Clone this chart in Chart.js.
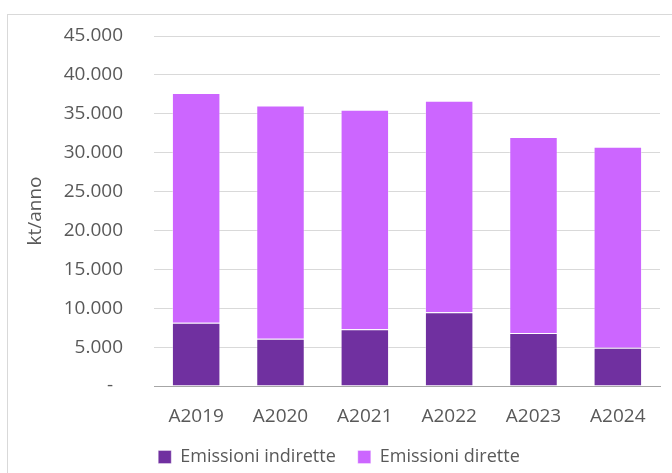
<!DOCTYPE html>
<html>
<head>
<meta charset="utf-8">
<script src="https://cdn.jsdelivr.net/npm/chart.js@4/dist/chart.umd.min.js"></script>
<style>
  html, body { margin: 0; padding: 0; background: #ffffff; }
  #wrap { width: 672px; height: 473px; position: relative; }
</style>
</head>
<body>
<div id="wrap"><canvas id="c" width="672" height="473"></canvas></div>
<script>
// Emissioni annue (kt/anno)
const categories = ['A2019', 'A2020', 'A2021', 'A2022', 'A2023', 'A2024'];
const emissioniIndirette = [8140, 6080, 7290, 9470, 6810, 4920];
const emissioniDirette = [29520, 30000, 28230, 27200, 25190, 25840];
const yTicks = [0, 5000, 10000, 15000, 20000, 25000, 30000, 35000, 40000, 45000];

const TEXT = '#595959';
const FONT = 'Open Sans';

function formatIt(v) {
  if (v === 0) return '-\u00a0\u00a0';
  return String(v).replace(/\B(?=(\d{3})+(?!\d))/g, '.');
}

// light frame around the whole chart
const framePlugin = {
  id: 'frame',
  beforeDraw(chart) {
    const ctx = chart.ctx;
    ctx.save();
    ctx.fillStyle = '#ffffff';
    ctx.fillRect(0, 0, chart.width, chart.height);
    ctx.strokeStyle = '#d9d9d9';
    ctx.lineWidth = 1;
    ctx.strokeRect(7.5, 14.5, chart.width + 20, chart.height + 20);
    ctx.restore();
  }
};

new Chart(document.getElementById('c'), {
  type: 'bar',
  data: {
    labels: categories,
    datasets: [
      {
        label: 'Emissioni indirette',
        data: emissioniIndirette,
        backgroundColor: '#7030a0',
        borderColor: 'rgba(255,255,255,0.35)',
        borderWidth: 1,
        categoryPercentage: 1,
        barPercentage: 0.575
      },
      {
        label: 'Emissioni dirette',
        data: emissioniDirette,
        backgroundColor: '#cc66ff',
        borderColor: 'rgba(255,255,255,0.35)',
        borderWidth: 1,
        categoryPercentage: 1,
        barPercentage: 0.575
      }
    ]
  },
  options: {
    responsive: false,
    animation: false,
    devicePixelRatio: 1,
    layout: { padding: { left: 18, right: 12, top: 36, bottom: 3 } },
    plugins: {
      tooltip: { enabled: false },
      legend: {
        position: 'bottom',
        maxHeight: 44,
        labels: {
          font: { family: FONT, size: 18 },
          color: TEXT,
          boxWidth: 13,
          boxHeight: 13,
          padding: 22
        }
      }
    },
    scales: {
      x: {
        stacked: true,
        afterFit(scale) { scale.height = 40; },
        grid: { display: false, drawTicks: false },
        border: { display: true, color: '#a6a6a6', width: 1 },
        ticks: {
          font: { family: FONT, size: 19 },
          color: TEXT,
          padding: 19,
          maxRotation: 0
        }
      },
      y: {
        stacked: true,
        min: 0,
        max: 45000,
        afterBuildTicks(scale) {
          scale.ticks = yTicks.map(v => ({ value: v }));
        },
        afterFit(scale) {
          scale.width = 136;
          scale.paddingTop = 0;
          scale.paddingBottom = 0;
        },
        grid: { color: '#d9d9d9', lineWidth: 1, drawTicks: false },
        border: { display: false },
        ticks: {
          font: { family: FONT, size: 19 },
          color: TEXT,
          padding: 31,
          callback: (v) => formatIt(v)
        },
        title: {
          display: true,
          text: 'kt/anno',
          font: { family: FONT, size: 19 },
          color: TEXT,
          padding: { top: 6, bottom: 0 }
        }
      }
    }
  },
  plugins: [framePlugin]
});
</script>
</body>
</html>
